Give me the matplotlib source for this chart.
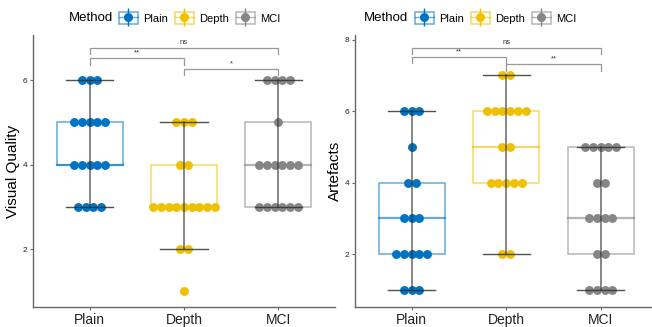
import numpy as np
import matplotlib
matplotlib.use("Agg")
import matplotlib.pyplot as plt
from matplotlib.patches import Rectangle
from matplotlib.lines import Line2D
from matplotlib.legend_handler import HandlerTuple

plt.rcParams['font.family'] = ['Liberation Sans', 'DejaVu Sans']

methods = ['Plain', 'Depth', 'MCI']
colors = ['#0073C2', '#EFC000', '#868686']

# (value, count) pairs per method
vq_plain = [(6, 3), (5, 5), (4, 5), (3, 4)]
vq_depth = [(5, 3), (4, 2), (3, 9), (2, 2), (1, 1)]
vq_mci = [(6, 4), (5, 1), (4, 6), (3, 6)]

art_plain = [(6, 3), (5, 1), (4, 2), (3, 3), (2, 5), (1, 3)]
art_depth = [(7, 2), (6, 6), (5, 2), (4, 5), (2, 2)]
art_mci = [(5, 5), (4, 2), (3, 4), (2, 2), (1, 4)]

# comparisons: (group a, group b, label)
vq_tests = [(0, 2, 'ns'), (0, 1, '**'), (1, 2, '*')]
art_tests = [(0, 2, 'ns'), (0, 1, '**'), (1, 2, '**')]


def expand(counts):
    vals = []
    for v, n in counts:
        vals += [v] * n
    return np.array(vals, dtype=float)


def draw_panel(ax, groups, tests, ylabel, yticks, ylim, xlim, brk):
    for i, counts in enumerate(groups):
        x = i + 1
        vals = expand(counts)
        q1, med, q3 = np.percentile(vals, [25, 50, 75])
        iqr = q3 - q1
        lo = vals[vals >= q1 - 1.5 * iqr].min()
        hi = vals[vals <= q3 + 1.5 * iqr].max()
        c = colors[i]
        # box
        ax.add_patch(Rectangle((x - 0.35, q1), 0.7, q3 - q1, facecolor='white',
                               edgecolor=c, alpha=0.6, lw=1.1, zorder=1))
        ax.plot([x - 0.35, x + 0.35], [med, med], color=c, alpha=0.6, lw=1.6, zorder=1)
        # dots
        sp = 0.082
        for v, n in counts:
            xs = x + (np.arange(n) - (n - 1) / 2) * sp
            ax.plot(xs, [v] * n, 'o', color=c, ms=6.4, mec='none', zorder=3)
        # error bar
        ax.plot([x, x], [lo, hi], color='#333333', alpha=0.75, lw=1.1, zorder=4)
        ax.plot([x - 0.25, x + 0.25], [lo, lo], color='#333333', alpha=0.85, lw=1.0, zorder=4)
        ax.plot([x - 0.25, x + 0.25], [hi, hi], color='#333333', alpha=0.85, lw=1.0, zorder=4)

    for (a, b, lab), (top, drop) in zip(tests, brk):
        ax.plot([a + 1, a + 1, b + 1, b + 1], [drop, top, top, drop],
                color='#999999', lw=0.9, zorder=2, clip_on=False)
        ax.text((a + b) / 2 + 1, top + 0.04, lab, ha='center', va='bottom',
                fontsize=5.5, color='#333333')

    ax.set_xlim(*xlim)
    ax.set_ylim(*ylim)
    ax.set_xticks([1, 2, 3])
    ax.set_xticklabels(methods, fontsize=10)
    ax.set_yticks(yticks)
    ax.set_yticklabels([str(t) for t in yticks], fontsize=6)
    ax.set_ylabel(ylabel, fontsize=11, labelpad=2)
    for s in ['top', 'right']:
        ax.spines[s].set_visible(False)
    for s in ['left', 'bottom']:
        ax.spines[s].set_color('#666666')
        ax.spines[s].set_linewidth(1.0)
    ax.tick_params(axis='both', colors='#666666', length=2.5, width=0.8)
    ax.tick_params(axis='x', labelcolor='#222222', pad=1.5)
    ax.tick_params(axis='y', labelcolor='#222222', pad=1.5)


fig = plt.figure(figsize=(6.52, 3.27), dpi=100)
W, H = 652, 327
ax1 = fig.add_axes([33 / W, 1 - 307 / H, (335 - 33) / W, (307 - 35) / H])
ax2 = fig.add_axes([355 / W, 1 - 307 / H, (652 - 355) / W, (307 - 35) / H])

draw_panel(ax1, [vq_plain, vq_depth, vq_mci], vq_tests, 'Visual Quality',
           [2, 4, 6], (0.63, 7.07), (0.4, 3.6),
           [(6.76, 6.62), (6.52, 6.36), (6.26, 6.12)])
draw_panel(ax2, [art_plain, art_depth, art_mci], art_tests, 'Artefacts',
           [2, 4, 6, 8], (0.52, 8.13), (0.4, 0.4 + 297 / 94.5),
           [(7.77, 7.61), (7.52, 7.36), (7.31, 7.12)])

# legends: title text + entries
for tx, lx in [(113, 119), (408, 415)]:
    fig.text(tx / W, 1 - 18 / H, 'Method', fontsize=9.5, va='center', ha='right')
    handles = []
    for c in colors:
        box = Rectangle((0, 0), 1, 1, facecolor='white', edgecolor=c, alpha=0.6, lw=1.1)
        vline = Line2D([], [], marker='|', ms=13, color=c, mew=1.0, ls='none')
        hline = Line2D([], [], color=c, alpha=0.6, lw=1.0)
        dot = Line2D([], [], marker='o', ms=6.5, color=c, mec='none', ls='none')
        handles.append((box, hline, vline, dot))
    fig.legend(handles, methods, loc='center left', bbox_to_anchor=(lx / W, 1 - 18 / H),
               ncol=3, frameon=False, fontsize=8,
               handler_map={tuple: HandlerTuple(ndivide=1, pad=0)},
               handlelength=1.7, handleheight=1.3, handletextpad=0.5,
               columnspacing=0.6, borderpad=0, borderaxespad=0)

fig.savefig('out.png', dpi=100)
